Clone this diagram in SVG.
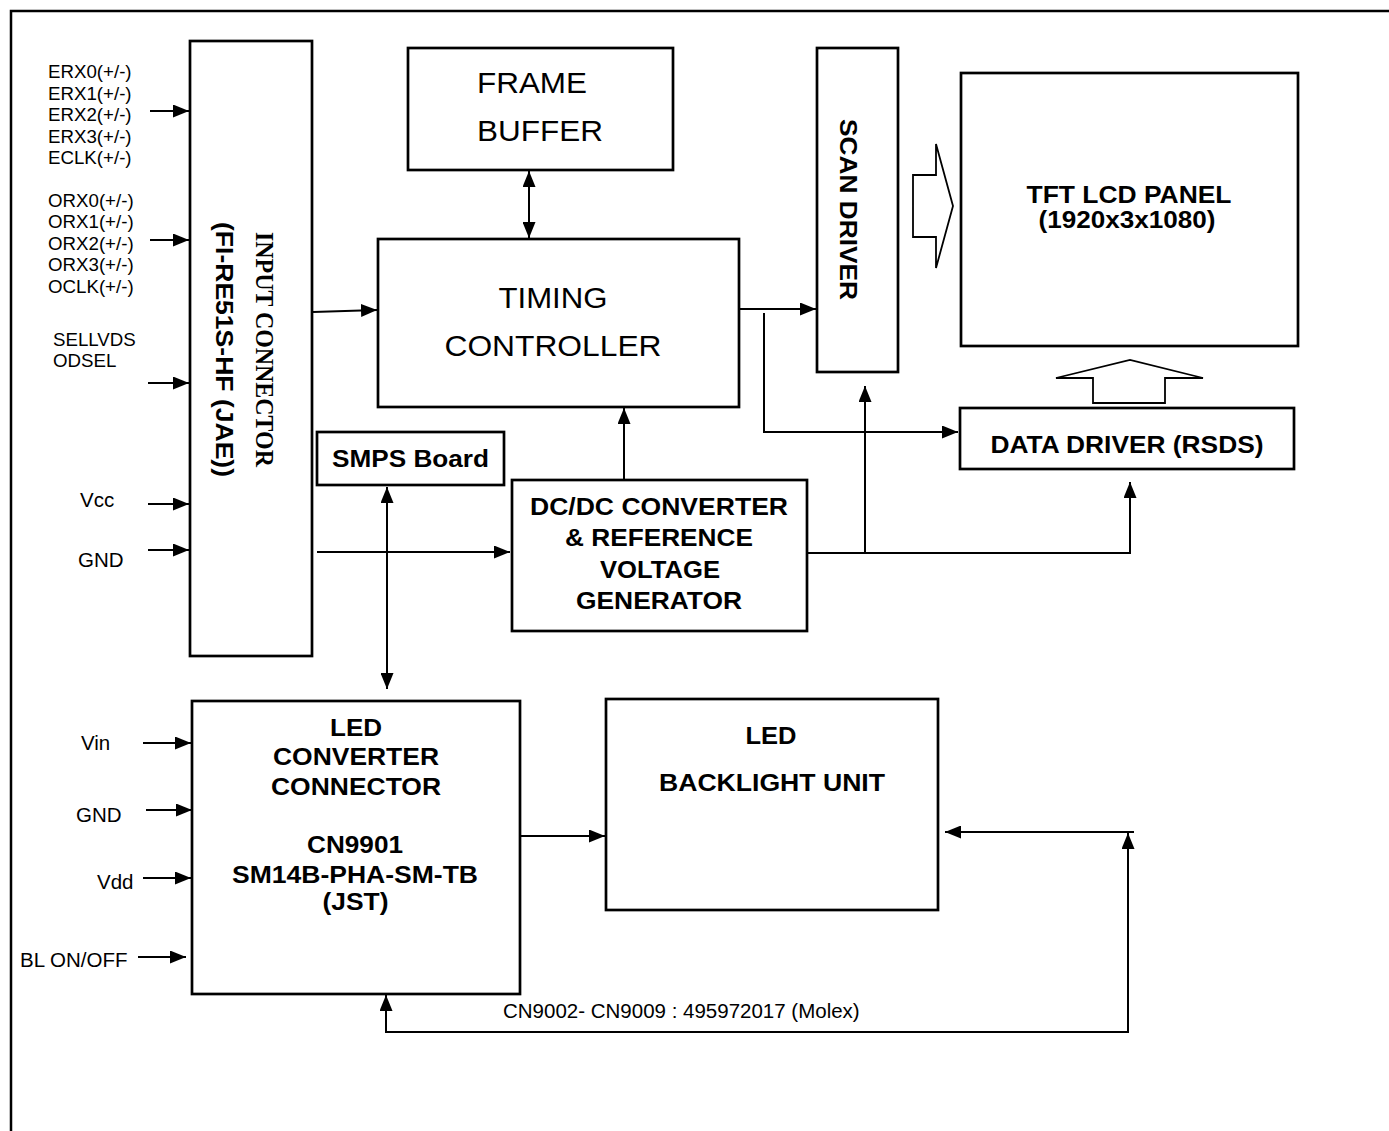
<svg xmlns="http://www.w3.org/2000/svg" width="1389" height="1131" viewBox="0 0 1389 1131">
<style>
.box{fill:#fff;stroke:#000;stroke-width:2.7}
.ln{fill:none;stroke:#000;stroke-width:2}
.hol{fill:#fff;stroke:#000;stroke-width:1.8;stroke-linejoin:miter}
.b{font-family:"Liberation Sans",Arial,sans-serif;font-weight:bold;font-size:24px;fill:#000}
.r{font-family:"Liberation Sans",Arial,sans-serif;font-size:18.7px;fill:#000}
.r20{font-family:"Liberation Sans",Arial,sans-serif;font-size:20.5px;fill:#000}
.big{font-family:"Liberation Sans",Arial,sans-serif;font-size:30px;fill:#000}
.tb{font-family:"Liberation Serif","Times New Roman",serif;font-weight:bold;font-size:25px;fill:#000}
.m{text-anchor:middle}
</style>
<defs>
<marker id="ah" markerUnits="userSpaceOnUse" markerWidth="16" markerHeight="13" refX="16" refY="6.5" orient="auto-start-reverse" viewBox="0 0 16 13">
<path d="M0,0 L16,6.5 L0,13 z" fill="#000"/>
</marker>
</defs>
<rect width="1389" height="1131" fill="#fff"/>
<path d="M11,1131 V11 H1389" fill="none" stroke="#000" stroke-width="2.5"/>

<g id="labels-left">
<text class="r" x="48" y="78">ERX0(+/-)</text>
<text class="r" x="48" y="99.5">ERX1(+/-)</text>
<text class="r" x="48" y="121">ERX2(+/-)</text>
<text class="r" x="48" y="142.5">ERX3(+/-)</text>
<text class="r" x="48" y="164">ECLK(+/-)</text>
<text class="r" x="48" y="207">ORX0(+/-)</text>
<text class="r" x="48" y="228">ORX1(+/-)</text>
<text class="r" x="48" y="249.5">ORX2(+/-)</text>
<text class="r" x="48" y="271">ORX3(+/-)</text>
<text class="r" x="48" y="292.5">OCLK(+/-)</text>
<text class="r" x="53" y="346">SELLVDS</text>
<text class="r" x="53" y="367">ODSEL</text>
<text class="r20" x="80" y="507">Vcc</text>
<text class="r20" x="78" y="567">GND</text>
<text class="r20" x="81" y="750">Vin</text>
<text class="r20" x="76" y="822">GND</text>
<text class="r20" x="97" y="889">Vdd</text>
<text class="r20" x="20" y="967">BL ON/OFF</text>
<text class="r20" x="503" y="1018">CN9002- CN9009 : 495972017 (Molex)</text>
</g>

<g id="input-connector">
<rect class="box" x="190" y="41" width="122" height="615"/>
<text class="tb m" transform="translate(256,349.5) rotate(90)" x="0" y="0" textLength="235" lengthAdjust="spacingAndGlyphs">INPUT CONNECTOR</text>
<text class="b m" transform="translate(216,349.5) rotate(90)" x="0" y="0" textLength="255" lengthAdjust="spacingAndGlyphs">(FI-RE51S-HF (JAE))</text>
</g>

<g id="frame-buffer">
<rect class="box" x="408" y="48" width="265" height="122"/>
<text class="big" x="477" y="93" textLength="110" lengthAdjust="spacingAndGlyphs">FRAME</text>
<text class="big" x="477" y="141" textLength="126" lengthAdjust="spacingAndGlyphs">BUFFER</text>
</g>

<g id="timing-controller">
<rect class="box" x="378" y="239" width="361" height="168"/>
<text class="big m" x="553" y="308" textLength="109" lengthAdjust="spacingAndGlyphs">TIMING</text>
<text class="big m" x="553" y="356" textLength="217" lengthAdjust="spacingAndGlyphs">CONTROLLER</text>
</g>

<g id="scan-driver">
<rect class="box" x="817" y="48" width="81" height="324"/>
<text class="b m" transform="translate(840,209.5) rotate(90)" x="0" y="0" textLength="181" lengthAdjust="spacingAndGlyphs">SCAN DRIVER</text>
</g>

<g id="tft-panel">
<rect class="box" x="961" y="73" width="337" height="273"/>
<text class="b m" x="1129" y="203" textLength="205" lengthAdjust="spacingAndGlyphs">TFT LCD PANEL</text>
<text class="b m" x="1127" y="228" textLength="177" lengthAdjust="spacingAndGlyphs">(1920x3x1080)</text>
</g>

<g id="data-driver">
<rect class="box" x="960" y="408" width="334" height="61"/>
<text class="b m" x="1127" y="453" textLength="273" lengthAdjust="spacingAndGlyphs">DATA DRIVER (RSDS)</text>
</g>

<g id="smps-board">
<rect class="box" x="317" y="432" width="187" height="53"/>
<text class="b m" x="410.5" y="467" textLength="157" lengthAdjust="spacingAndGlyphs">SMPS Board</text>
</g>

<g id="dcdc-converter">
<rect class="box" x="512" y="480" width="295" height="151"/>
<text class="b m" x="659" y="515" textLength="258" lengthAdjust="spacingAndGlyphs">DC/DC CONVERTER</text>
<text class="b m" x="659" y="546" textLength="188" lengthAdjust="spacingAndGlyphs">&amp; REFERENCE</text>
<text class="b m" x="660" y="578" textLength="120" lengthAdjust="spacingAndGlyphs">VOLTAGE</text>
<text class="b m" x="659" y="609" textLength="166" lengthAdjust="spacingAndGlyphs">GENERATOR</text>
</g>

<g id="led-converter-connector">
<rect class="box" x="192" y="701" width="328" height="293"/>
<text class="b m" x="356" y="736" textLength="52" lengthAdjust="spacingAndGlyphs">LED</text>
<text class="b m" x="356" y="765" textLength="166" lengthAdjust="spacingAndGlyphs">CONVERTER</text>
<text class="b m" x="356" y="795" textLength="170" lengthAdjust="spacingAndGlyphs">CONNECTOR</text>
<text class="b m" x="355" y="853" textLength="96" lengthAdjust="spacingAndGlyphs">CN9901</text>
<text class="b m" x="355" y="883" textLength="246" lengthAdjust="spacingAndGlyphs">SM14B-PHA-SM-TB</text>
<text class="b m" x="355.5" y="910" textLength="66" lengthAdjust="spacingAndGlyphs">(JST)</text>
</g>

<g id="led-backlight-unit">
<rect class="box" x="606" y="699" width="332" height="211"/>
<text class="b m" x="771" y="744" textLength="51" lengthAdjust="spacingAndGlyphs">LED</text>
<text class="b m" x="772" y="791" textLength="226" lengthAdjust="spacingAndGlyphs">BACKLIGHT UNIT</text>
</g>

<g id="hollow-arrows">
<polygon class="hol" points="913,175 936,175 936,144 953,206 936,268 936,237 913,237"/>
<polygon class="hol" points="1093,403 1093,378 1056,378 1130,360 1203,378 1165,378 1165,403"/>
</g>

<g id="connectors">
<path class="ln" d="M150,111 H189" marker-end="url(#ah)"/>
<path class="ln" d="M150,240 H189" marker-end="url(#ah)"/>
<path class="ln" d="M148,383 H189" marker-end="url(#ah)"/>
<path class="ln" d="M148,504 H189" marker-end="url(#ah)"/>
<path class="ln" d="M148,550 H189" marker-end="url(#ah)"/>
<path class="ln" d="M313,312 L377,310" marker-end="url(#ah)"/>
<path class="ln" d="M317,552 H510" marker-end="url(#ah)"/>
<path class="ln" d="M529,171 V238" marker-start="url(#ah)" marker-end="url(#ah)"/>
<path class="ln" d="M739,309 H816" marker-end="url(#ah)"/>
<path class="ln" d="M764,313 V432 H958" marker-end="url(#ah)"/>
<path class="ln" d="M624,480 V408" marker-end="url(#ah)"/>
<path class="ln" d="M807,553 H1130 V482" marker-end="url(#ah)"/>
<path class="ln" d="M865,553 V386" marker-end="url(#ah)"/>
<path class="ln" d="M387,487 V689" marker-start="url(#ah)" marker-end="url(#ah)"/>
<path class="ln" d="M143,743 H191" marker-end="url(#ah)"/>
<path class="ln" d="M146,810 H192" marker-end="url(#ah)"/>
<path class="ln" d="M143,878 H191" marker-end="url(#ah)"/>
<path class="ln" d="M138,957 H186" marker-end="url(#ah)"/>
<path class="ln" d="M520,836 H605" marker-end="url(#ah)"/>
<path class="ln" d="M386,995 V1032 H1128 V833" marker-start="url(#ah)" marker-end="url(#ah)"/>
<path class="ln" d="M1134,832 H945" marker-end="url(#ah)"/>
</g>
</svg>
